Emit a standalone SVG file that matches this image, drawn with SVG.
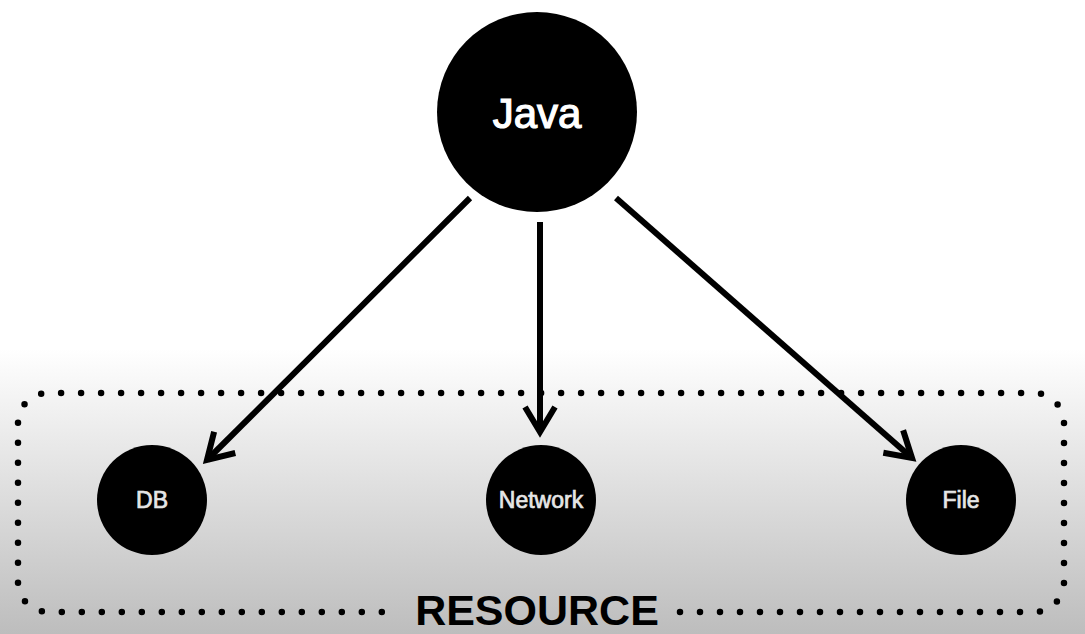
<svg xmlns="http://www.w3.org/2000/svg" width="1085" height="634" viewBox="0 0 1085 634">
  <defs>
    <linearGradient id="bg" x1="0" y1="0" x2="0" y2="634" gradientUnits="userSpaceOnUse">
      <stop offset="0" stop-color="#ffffff"/>
      <stop offset="0.55" stop-color="#ffffff"/>
      <stop offset="1" stop-color="#bdbdbd"/>
    </linearGradient>
    <marker id="chev" markerUnits="userSpaceOnUse" markerWidth="40" markerHeight="40" viewBox="-30 -20 40 40" refX="0" refY="0" orient="auto">
      <path d="M -25 -15 L 0 0 L -25 15" fill="none" stroke="#000" stroke-width="6" stroke-linejoin="miter"/>
    </marker>
    <style>
      .node { fill: #000; }
      .big { font-family: "Liberation Sans", Arial, sans-serif; font-size: 42px; fill: #fff; stroke: #fff; stroke-width: 1.2px; text-anchor: middle; }
      .small { font-family: "Liberation Sans", Arial, sans-serif; font-size: 23px; fill: #e6e6e6; stroke: #e6e6e6; stroke-width: 0.7px; text-anchor: middle; }
      .edge { stroke: #000; stroke-width: 6; fill: none; marker-end: url(#chev); }
      .dots { stroke: #000; stroke-width: 6.5; fill: none; stroke-linecap: round; stroke-dasharray: 0 20; }
      .label { font-family: "Liberation Sans", Arial, sans-serif; font-size: 43px; font-weight: bold; fill: #000; text-anchor: middle; }
    </style>
  </defs>
  <rect x="0" y="0" width="1085" height="634" fill="url(#bg)"/>
  <g id="resource-group">
    <path class="dots" d="M 680 612 L 1034 612 A 30 30 0 0 0 1064 582 L 1064 423 A 30 30 0 0 0 1034 393 L 48 393 A 30 30 0 0 0 18 423 L 18 582 A 30 30 0 0 0 48 612 L 400 612"/>
    <text class="label" x="537" y="625">RESOURCE</text>
  </g>
  <g id="connectors">
    <path class="edge" d="M 470 198 L 207 460"/>
    <path class="edge" d="M 540 222 L 540 432"/>
    <path class="edge" d="M 616 198 L 912 458"/>
  </g>
  <g id="java">
    <circle class="node" cx="537" cy="112" r="100"/>
    <text class="big" x="537" y="128">Java</text>
  </g>
  <g id="db">
    <circle class="node" cx="152" cy="500" r="55"/>
    <text class="small" x="152" y="508">DB</text>
  </g>
  <g id="network">
    <circle class="node" cx="541" cy="500" r="55"/>
    <text class="small" x="541" y="508">Network</text>
  </g>
  <g id="file">
    <circle class="node" cx="961" cy="500" r="55"/>
    <text class="small" x="961" y="508">File</text>
  </g>
</svg>
